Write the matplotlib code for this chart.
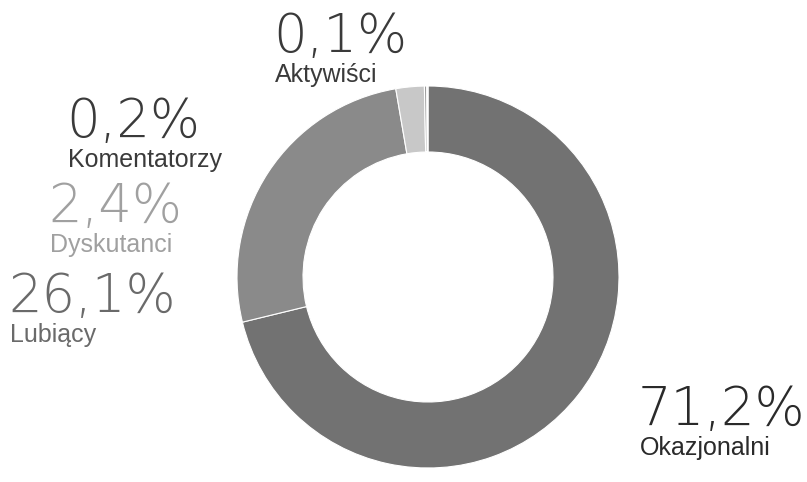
import matplotlib.pyplot as plt

labels = ['Okazjonalni', 'Lubiący', 'Dyskutanci', 'Komentatorzy', 'Aktywiści']
values = [71.2, 26.1, 2.4, 0.2, 0.1]

wedge_colors = ['#727272', '#8a8a8a', '#c8c8c8', '#9a9a9a', '#d8d8d8']
text_colors = ['#2a2a2a', '#6a6a6a', '#a0a0a0', '#3a3a3a', '#3a3a3a']
# label anchor (left edge, baseline of the percentage) in pixels from top-left
label_pos = [(638, 425), (8, 312), (48, 222), (66, 137), (273, 52)]

H = 482
fig = plt.figure(figsize=(8.07, 4.82), dpi=100)
ax = fig.add_axes([0, 0, 1, 1])

ax.pie(values, colors=wedge_colors, startangle=90, counterclock=False,
       center=(428, H - 277), radius=191, frame=True,
       wedgeprops=dict(width=66, edgecolor='white', linewidth=0.8))
ax.set_xlim(0, 807)
ax.set_ylim(0, H)
ax.set_aspect('equal')
ax.axis('off')

for lab, val, col, (x, y) in zip(labels, values, text_colors, label_pos):
    pct = f'{val:.1f}'.replace('.', ',') + '%'
    ax.text(x, H - y, pct, fontsize=38, color=col, fontweight='light',
            family='DejaVu Sans', ha='left', va='baseline')
    ax.text(x + 2, H - y - 11, lab, fontsize=18, color=col,
            family='Liberation Sans', ha='left', va='top')

plt.savefig('out.png', dpi=100)
